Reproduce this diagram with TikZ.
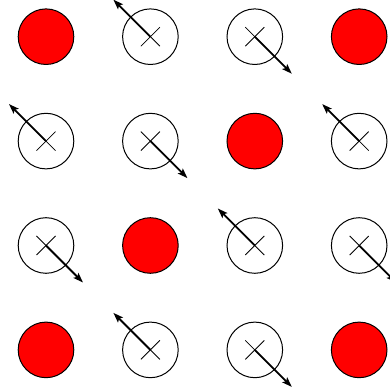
\documentclass[tikz,border=0pt]{standalone}
\usetikzlibrary{arrows.meta,positioning}

\begin{document}
\begin{tikzpicture}[
  node distance=48.8pt,
  site/.style={circle,draw=black,line width=1pt,minimum size=55.6pt,inner sep=0pt,outer sep=0pt},
  occ/.style={site,fill=red},
  spin/.style={site,fill=white,path picture={
      \draw[line width=0.8pt] ([shift={(-9.5pt,-9.5pt)}]path picture bounding box.center) -- ([shift={(9.5pt,9.5pt)}]path picture bounding box.center);
      \draw[line width=0.8pt] ([shift={(-9.5pt,9.5pt)}]path picture bounding box.center) -- ([shift={(9.5pt,-9.5pt)}]path picture bounding box.center);}},
  ar/.style={-{Stealth[length=10pt,width=7pt,inset=2pt]},line width=1.8pt,draw=black}
]
\useasboundingbox (0,0) rectangle (390pt,391pt);

% row 1
\node[occ] (s11) at (46pt,354.3pt) {};
\node[spin,right=of s11] (s12) {};
\node[spin,right=of s12] (s13) {};
\node[occ,right=of s13] (s14) {};
% row 2
\node[spin,below=of s11] (s21) {};
\node[spin,right=of s21] (s22) {};
\node[occ,right=of s22] (s23) {};
\node[spin,right=of s23] (s24) {};
% row 3
\node[spin,below=of s21] (s31) {};
\node[occ,right=of s31] (s32) {};
\node[spin,right=of s32] (s33) {};
\node[spin,right=of s33] (s34) {};
% row 4
\node[occ,below=of s31] (s41) {};
\node[spin,right=of s41] (s42) {};
\node[spin,right=of s42] (s43) {};
\node[occ,right=of s43] (s44) {};

% arrow ends
\coordinate (t12) at ([shift={(-37pt,37pt)}]s12.center);
\coordinate (t13) at ([shift={(37pt,-37pt)}]s13.center);
\coordinate (t21) at ([shift={(-37pt,37pt)}]s21.center);
\coordinate (t22) at ([shift={(37pt,-37pt)}]s22.center);
\coordinate (t24) at ([shift={(-37pt,37pt)}]s24.center);
\coordinate (t31) at ([shift={(37pt,-37pt)}]s31.center);
\coordinate (t33) at ([shift={(-37pt,37pt)}]s33.center);
\coordinate (t34) at ([shift={(37pt,-37pt)}]s34.center);
\coordinate (t42) at ([shift={(-37pt,37pt)}]s42.center);
\coordinate (t43) at ([shift={(37pt,-37pt)}]s43.center);

\draw[ar] (s12.center) -- (t12); \draw[ar] (s13.center) -- (t13);
\draw[ar] (s21.center) -- (t21); \draw[ar] (s22.center) -- (t22); \draw[ar] (s24.center) -- (t24);
\draw[ar] (s31.center) -- (t31); \draw[ar] (s33.center) -- (t33); \draw[ar] (s34.center) -- (t34);
\draw[ar] (s42.center) -- (t42); \draw[ar] (s43.center) -- (t43);
\end{tikzpicture}
\end{document}
